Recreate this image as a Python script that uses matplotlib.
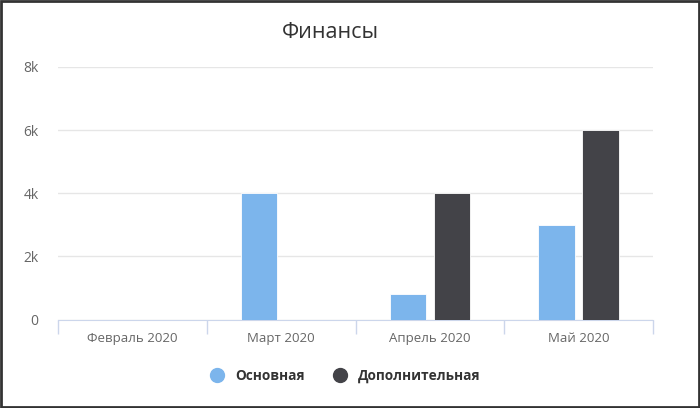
#!/usr/bin/env python3
import numpy as np
import matplotlib
matplotlib.use('Agg')
import matplotlib.pyplot as plt
from matplotlib.patches import Rectangle
from matplotlib.lines import Line2D

categories = ['Февраль 2020', 'Март 2020', 'Апрель 2020', 'Май 2020']
main_vals = [0, 4000, 800, 3000]
extra_vals = [0, 0, 4000, 6000]
series_names = ['Основная', 'Дополнительная']
yticks = [0, 2000, 4000, 6000, 8000]
ytick_labels = ['0', '2k', '4k', '6k', '8k']

plt.rcParams['font.family'] = ['Open Sans', 'DejaVu Sans']

W, H = 700, 408
fig = plt.figure(figsize=(W/100, H/100), dpi=100)
ax = fig.add_axes([58/W, 1-319.5/H, (653-58)/W, (319.5-67)/H])

x = np.arange(len(categories))
bw = 0.245
off = 0.148
ax.bar(x-off, main_vals, bw, color='#7cb5ec', edgecolor='white', linewidth=0.6, zorder=3)
ax.bar(x+off, extra_vals, bw, color='#434348', edgecolor='white', linewidth=0.6, zorder=3)

ax.set_xlim(-0.5, len(categories)-0.5)
ax.set_ylim(0, 8000)
ax.set_yticks(yticks)
ax.set_yticklabels(ytick_labels, color='#666666', fontsize=10)
ax.set_xticks(x)
ax.set_xticklabels(categories, color='#666666', fontsize=9.5)
ax.tick_params(axis='y', length=0, pad=14)
ax.tick_params(axis='x', length=0, pad=9)
# category boundary ticks
ax.set_xticks(np.arange(len(categories)+1)-0.5, minor=True)
ax.tick_params(axis='x', which='minor', length=10, color='#ccd6eb', width=1)

ax.grid(axis='y', color='#e6e6e6', linewidth=1, zorder=0)
for s in ['top', 'right', 'left']:
    ax.spines[s].set_visible(False)
ax.spines['bottom'].set_color('#ccd6eb')

fig.text(330/W, 1-33/H, 'Финансы', ha='center', va='center', fontsize=15.5, color='#333333')

handles = [Line2D([], [], marker='o', linestyle='none', markersize=10, color='#7cb5ec'),
           Line2D([], [], marker='o', linestyle='none', markersize=10, color='#434348')]
leg = fig.legend(handles, series_names, loc='center', bbox_to_anchor=(342/W, 1-376/H),
                 ncol=2, frameon=False, handletextpad=0.3, columnspacing=1.6,
                 prop={'weight': 'bold', 'size': 9.8})
for t in leg.get_texts():
    t.set_color('#333333')

fig.patches.append(Rectangle((0.0015, 0.0025), 0.997, 0.995, transform=fig.transFigure,
                             fill=False, edgecolor='#333333', linewidth=2))

fig.savefig('out.png', dpi=100)
